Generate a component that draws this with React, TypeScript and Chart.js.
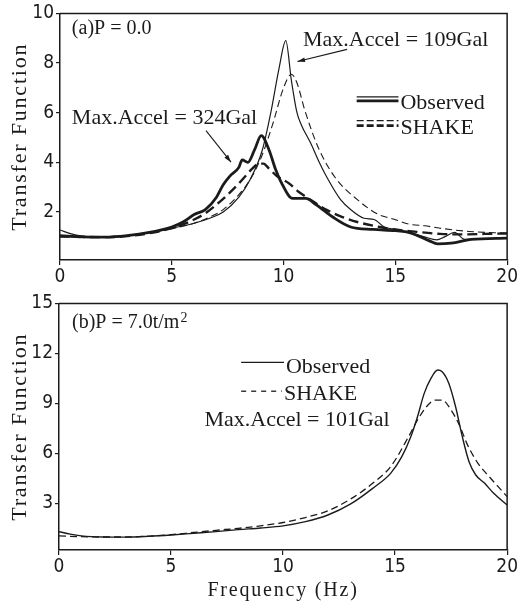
import React, { useEffect, useRef } from "react";
import { Chart, registerables } from "chart.js";

Chart.register(...registerables);

// ---------- tick labels ----------
const xTicks = [0, 5, 10, 15, 20];
const yTicksA = [2, 4, 6, 8, 10];
const yTicksB = [3, 6, 9, 12, 15];

// ---------- panel (a): P = 0.0 ----------
// Max.Accel = 109 Gal, observed (thin solid)
const obs109Freq = [0, 0.5, 1, 1.5, 2, 3, 4, 5, 6, 6.7, 7.3, 8, 8.5, 9.05, 9.45, 9.8, 10.1, 10.35, 10.6, 10.8, 11.2, 11.6, 12, 12.55, 13, 13.6, 14.05, 14.5, 15, 15.7, 16.3, 16.85, 17.2, 17.65, 18.1, 19, 20];
const obs109Val = [1.28, 1.12, 1.03, 0.99, 0.99, 1.05, 1.18, 1.35, 1.55, 1.75, 2.0, 2.6, 3.3, 4.5, 6.1, 7.8, 8.9, 7.3, 6.0, 5.5, 4.8, 4.0, 3.3, 2.5, 2.1, 1.75, 1.7, 1.4, 1.3, 1.15, 1.0, 0.88, 1.0, 1.18, 0.9, 0.92, 0.95];
// Max.Accel = 109 Gal, SHAKE (thin dashed)
const shake109Freq = [0, 1, 2, 3, 4, 5, 6, 6.7, 7.3, 8, 8.5, 9, 9.5, 10, 10.35, 10.6, 10.95, 11.55, 12.3, 13.3, 14.25, 14.8, 15.7, 16.3, 17, 18.3, 20];
const shake109Val = [1.0, 1.0, 0.99, 1.04, 1.17, 1.33, 1.55, 1.8, 2.1, 2.7, 3.3, 4.2, 5.5, 7.0, 7.55, 7.2, 6.1, 4.6, 3.4, 2.5, 1.9, 1.75, 1.5, 1.45, 1.35, 1.22, 1.15];
// Max.Accel = 324 Gal, observed (thick solid)
const obs324Freq = [0, 1, 2, 3, 4, 5, 5.5, 6, 6.5, 7, 7.3, 7.6, 8, 8.15, 8.4, 8.7, 9, 9.35, 9.65, 9.95, 10.4, 11, 11.45, 12.2, 13, 14, 15, 15.5, 16, 16.5, 16.9, 17.5, 18.4, 20];
const obs324Val = [1.05, 1.0, 0.99, 1.05, 1.18, 1.4, 1.6, 1.9, 2.1, 2.6, 3.1, 3.45, 3.8, 4.1, 4.0, 4.5, 5.08, 4.5, 3.7, 3.1, 2.55, 2.55, 2.3, 1.8, 1.4, 1.3, 1.25, 1.2, 1.05, 0.85, 0.72, 0.75, 0.9, 0.95];
// Max.Accel = 324 Gal, SHAKE (thick dashed)
const shake324Freq = [0, 1, 2, 3, 4, 5, 5.5, 6, 6.5, 7, 7.5, 8, 8.3, 8.6, 8.9, 9.1, 9.35, 9.7, 10.25, 10.7, 11.2, 11.9, 12.5, 13.3, 14.3, 15, 16, 17, 18, 19, 20];
const shake324Val = [1.02, 1.0, 0.99, 1.03, 1.15, 1.35, 1.5, 1.7, 1.95, 2.3, 2.7, 3.15, 3.45, 3.75, 3.95, 3.95, 3.75, 3.45, 3.15, 2.8, 2.5, 2.1, 1.85, 1.6, 1.4, 1.3, 1.2, 1.12, 1.1, 1.12, 1.14];

// ---------- panel (b): P = 7.0 t/m2, Max.Accel = 101 Gal ----------
const obsBFreq = [0, 0.5, 1, 2, 3, 4, 5, 6, 7, 8, 9, 10, 11, 12, 13, 14, 14.8, 15.3, 15.7, 16, 16.3, 16.6, 16.9, 17.1, 17.4, 17.7, 18, 18.3, 18.6, 19, 19.4, 20];
const obsBVal = [1.3, 1.15, 1.05, 0.98, 0.97, 1.02, 1.1, 1.2, 1.3, 1.42, 1.52, 1.65, 1.9, 2.3, 2.95, 3.9, 4.8, 5.8, 7.0, 8.2, 9.6, 10.5, 11.0, 10.9, 10.2, 8.8, 7.0, 5.5, 4.7, 4.2, 3.6, 2.9];
const shakeBFreq = [0, 1, 2, 3, 4, 5, 6, 7, 8, 9, 10, 11, 12, 13, 14, 14.8, 15.6, 16.0, 16.4, 16.8, 17.1, 17.5, 17.9, 18.2, 18.7, 19.2, 19.6, 20];
const shakeBVal = [1.05, 1.0, 0.98, 0.98, 1.03, 1.12, 1.25, 1.38, 1.5, 1.65, 1.85, 2.15, 2.55, 3.25, 4.2, 5.2, 7.0, 8.0, 8.8, 9.2, 9.2, 8.6, 7.6, 6.6, 5.4, 4.6, 4.0, 3.4];

const INK = "#1b1b1b";
const SERIF = "'Liberation Serif', 'DejaVu Serif', serif";
const TICKFONT = "'Liberation Sans Narrow', 'DejaVu Sans Condensed', 'Liberation Sans', sans-serif";

const pts = (xs: number[], ys: number[]) => xs.map((x, i) => ({ x, y: ys[i] }));

type Txt = { text: string; x: number; y: number; size: number; sup?: string };
type Arrow = { x1: number; y1: number; x2: number; y2: number };
type Sample = { x1: number; x2: number; y: number; width: number; dash: number[] };

function decoPlugin(id: string, texts: Txt[], arrows: Arrow[], samples: Sample[]) {
  return {
    id,
    beforeDraw(chart: any) {
      chart.ctx.letterSpacing = "1.8px";
    },
    beforeDatasetsDraw(chart: any) {
      chart.ctx.letterSpacing = "0px";
    },
    afterDatasetsDraw(chart: any) {
      const { ctx, chartArea, scales } = chart;
      const X = (v: number) => scales.x.getPixelForValue(v);
      const Y = (v: number) => scales.y.getPixelForValue(v);
      ctx.save();
      ctx.letterSpacing = "0px";
      // top and right frame lines
      ctx.strokeStyle = INK;
      ctx.lineWidth = 1.5;
      ctx.beginPath();
      ctx.moveTo(chartArea.left, chartArea.top);
      ctx.lineTo(chartArea.right, chartArea.top);
      ctx.lineTo(chartArea.right, chartArea.bottom);
      ctx.stroke();
      // texts
      ctx.fillStyle = INK;
      ctx.textAlign = "left";
      ctx.textBaseline = "alphabetic";
      for (const t of texts) {
        ctx.font = `${t.size}px ${SERIF}`;
        const px = X(t.x);
        const py = Y(t.y);
        ctx.fillText(t.text, px, py);
        if (t.sup) {
          const w = ctx.measureText(t.text).width;
          ctx.font = `${Math.round(t.size * 0.72)}px ${SERIF}`;
          ctx.fillText(t.sup, px + w + 1, py - t.size * 0.33);
        }
      }
      // arrows
      ctx.lineWidth = 1.1;
      for (const a of arrows) {
        const x1 = X(a.x1), y1 = Y(a.y1), x2 = X(a.x2), y2 = Y(a.y2);
        ctx.beginPath();
        ctx.moveTo(x1, y1);
        ctx.lineTo(x2, y2);
        ctx.stroke();
        const ang = Math.atan2(y2 - y1, x2 - x1);
        const L = 8, W = 0.3;
        ctx.beginPath();
        ctx.moveTo(x2, y2);
        ctx.lineTo(x2 - L * Math.cos(ang - W), y2 - L * Math.sin(ang - W));
        ctx.lineTo(x2 - L * Math.cos(ang + W), y2 - L * Math.sin(ang + W));
        ctx.closePath();
        ctx.fill();
      }
      // legend samples
      for (const s of samples) {
        ctx.lineWidth = s.width;
        ctx.setLineDash(s.dash);
        ctx.beginPath();
        ctx.moveTo(X(s.x1), Y(s.y));
        ctx.lineTo(X(s.x2), Y(s.y));
        ctx.stroke();
      }
      ctx.setLineDash([]);
      ctx.restore();
    },
  };
}

function axisOpts(min: number, max: number, ticks: number[], fit: (s: any) => void, title: any, isX: boolean) {
  return {
    type: "linear",
    min,
    max,
    afterBuildTicks: (s: any) => {
      s.ticks = ticks.map((v) => ({ value: v }));
    },
    afterFit: fit,
    grid: { drawOnChartArea: false, drawTicks: true, tickLength: isX ? 5 : 4, color: INK, lineWidth: 1.2 },
    border: { display: true, color: INK, width: 1.5 },
    ticks: {
      z: 1,
      color: INK,
      font: { family: TICKFONT, size: 19 },
      padding: isX ? 1 : 2,
      maxRotation: 0,
      autoSkip: false,
      callback: (v: any) => String(v),
    },
    title,
  };
}

function line(data: any[], width: number, dash: number[]) {
  return {
    data,
    borderColor: INK,
    borderWidth: width,
    borderDash: dash,
    pointRadius: 0,
    fill: false,
    cubicInterpolationMode: "monotone",
  };
}

export default function App() {
  const refA = useRef<HTMLCanvasElement>(null);
  const refB = useRef<HTMLCanvasElement>(null);

  useEffect(() => {
    const yTitle = (pad: number) => ({
      display: true,
      text: "Transfer Function",
      color: INK,
      font: { family: SERIF, size: 22, weight: "normal" },
      padding: { top: pad, bottom: 0 },
    });

    const chartA = new Chart(refA.current as HTMLCanvasElement, {
      type: "line",
      data: {
        datasets: [
          line(pts(obs109Freq, obs109Val), 1.2, []),
          line(pts(shake109Freq, shake109Val), 1.1, [7, 4]),
          line(pts(obs324Freq, obs324Val), 2.8, []),
          line(pts(shake324Freq, shake324Val), 2.4, [10, 5]),
        ] as any,
      },
      options: {
        animation: false,
        responsive: false,
        maintainAspectRatio: false,
        layout: { padding: { top: 12, right: 10, left: 0, bottom: 0 } },
        plugins: { legend: { display: false }, tooltip: { enabled: false } },
        scales: {
          x: axisOpts(0, 20, xTicks, (s: any) => { s.height = 30; }, { display: false }, true),
          y: axisOpts(0.07, 10, yTicksA, (s: any) => { s.width = 60; }, yTitle(7), false),
        } as any,
      },
      plugins: [
        decoPlugin(
          "decoA",
          [
            { text: "(a)P = 0.0", x: 0.53, y: 9.16, size: 20 },
            { text: "Max.Accel = 109Gal", x: 10.87, y: 8.68, size: 22 },
            { text: "Max.Accel = 324Gal", x: 0.53, y: 5.56, size: 22 },
            { text: "Observed", x: 15.23, y: 6.16, size: 22 },
            { text: "SHAKE", x: 15.23, y: 5.16, size: 22 },
          ],
          [
            { x1: 6.53, y1: 5.28, x2: 7.65, y2: 4.01 },
            { x1: 12.84, y1: 8.55, x2: 10.62, y2: 8.06 },
          ],
          [
            { x1: 13.27, x2: 15.14, y: 6.64, width: 1.3, dash: [] },
            { x1: 13.27, x2: 15.14, y: 6.48, width: 2.8, dash: [] },
            { x1: 13.27, x2: 15.14, y: 5.68, width: 1.2, dash: [7, 3] },
            { x1: 13.27, x2: 15.14, y: 5.48, width: 2.6, dash: [7, 3] },
          ]
        ),
      ],
    } as any);

    const chartB = new Chart(refB.current as HTMLCanvasElement, {
      type: "line",
      data: {
        datasets: [
          line(pts(obsBFreq, obsBVal), 1.4, []),
          line(pts(shakeBFreq, shakeBVal), 1.3, [7, 4]),
        ] as any,
      },
      options: {
        animation: false,
        responsive: false,
        maintainAspectRatio: false,
        layout: { padding: { top: 13, right: 10, left: 0, bottom: 0 } },
        plugins: { legend: { display: false }, tooltip: { enabled: false } },
        scales: {
          x: axisOpts(0, 20, xTicks, (s: any) => { s.height = 57; }, {
            display: true,
            text: "Frequency (Hz)",
            color: INK,
            font: { family: SERIF, size: 20, weight: "normal" },
            padding: { top: 0, bottom: 4 },
          }, true),
          y: axisOpts(0.2, 15, yTicksB, (s: any) => { s.width = 59; }, yTitle(7), false),
        } as any,
      },
      plugins: [
        decoPlugin(
          "decoB",
          [
            { text: "(b)P = 7.0t/m", x: 0.58, y: 13.5, size: 20, sup: "2" },
            { text: "Observed", x: 10.13, y: 10.8, size: 22 },
            { text: "SHAKE", x: 10.04, y: 9.19, size: 22 },
            { text: "Max.Accel = 101Gal", x: 6.49, y: 7.63, size: 22 },
          ],
          [],
          [
            { x1: 8.13, x2: 10.04, y: 11.46, width: 1.3, dash: [] },
            { x1: 8.13, x2: 9.95, y: 9.73, width: 1.3, dash: [5, 5] },
          ]
        ),
      ],
    } as any);

    return () => {
      chartA.destroy();
      chartB.destroy();
    };
  }, []);

  return (
    <div style={{ position: "absolute", left: 0, top: 0, width: 519, height: 607, background: "#fff" }}>
      <canvas ref={refA} width={519} height={290} style={{ position: "absolute", left: 0, top: 0, display: "block" }} />
      <canvas ref={refB} width={519} height={317} style={{ position: "absolute", left: 0, top: 290, display: "block" }} />
    </div>
  );
}
